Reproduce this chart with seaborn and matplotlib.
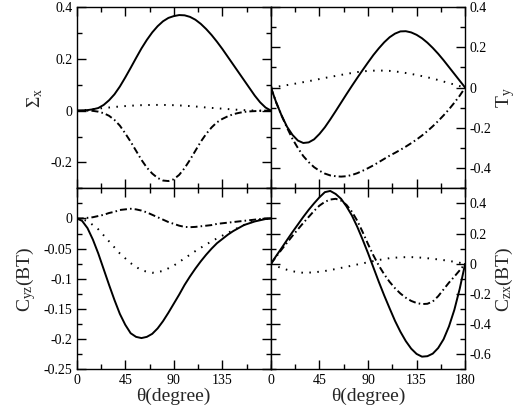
import numpy as np
import pandas as pd
import matplotlib
matplotlib.use("Agg")
import matplotlib.pyplot as plt
from matplotlib.ticker import MultipleLocator, FuncFormatter
import seaborn as sns

# angles (degrees)
theta_fine = [0, 5, 10, 15, 20, 25, 30, 35, 40, 45, 50, 55, 60, 65, 70, 75, 80, 85, 90,
              95, 100, 105, 110, 115, 120, 125, 130, 135, 140, 145, 150, 155, 160, 165, 170, 175, 180]
theta_coarse = [0, 10, 20, 30, 40, 50, 60, 70, 80, 90, 100, 110, 120, 130, 140, 150, 160, 170, 180]

# Sigma_x
sx_solid = [0, 0.0005, 0.002, 0.005, 0.01, 0.022, 0.04, 0.063, 0.093, 0.128, 0.165, 0.203, 0.24, 0.273, 0.302,
            0.326, 0.345, 0.358, 0.365, 0.369, 0.368, 0.362, 0.351, 0.335, 0.315, 0.292, 0.266, 0.238, 0.208,
            0.178, 0.148, 0.118, 0.088, 0.058, 0.032, 0.012, 0]
sx_dd = [0, 0, 0, -0.001, -0.004, -0.01, -0.02, -0.036, -0.058, -0.088, -0.12, -0.155, -0.19, -0.22, -0.243,
         -0.26, -0.27, -0.272, -0.265, -0.248, -0.222, -0.19, -0.155, -0.12, -0.09, -0.065, -0.045, -0.032,
         -0.022, -0.014, -0.009, -0.005, -0.003, -0.002, -0.001, 0, 0]
sx_dot = [0, 0.003, 0.008, 0.012, 0.016, 0.019, 0.021, 0.022, 0.022, 0.021, 0.019, 0.016, 0.012, 0.009, 0.006,
          0.003, 0.001, 0, 0]

# T_y
ty_solid = [0, -0.075, -0.14, -0.195, -0.235, -0.263, -0.275, -0.272, -0.257, -0.23, -0.197, -0.158, -0.117,
            -0.075, -0.033, 0.008, 0.048, 0.087, 0.125, 0.162, 0.195, 0.225, 0.25, 0.268, 0.279, 0.28, 0.274,
            0.262, 0.245, 0.223, 0.197, 0.168, 0.136, 0.102, 0.068, 0.034, 0]
ty_dd = [0, -0.075, -0.14, -0.2, -0.255, -0.3, -0.34, -0.37, -0.395, -0.413, -0.427, -0.436, -0.44, -0.442,
         -0.44, -0.434, -0.425, -0.413, -0.4, -0.386, -0.37, -0.354, -0.338, -0.324, -0.309, -0.293, -0.276,
         -0.258, -0.238, -0.216, -0.192, -0.166, -0.138, -0.108, -0.075, -0.04, 0]
ty_dot = [0, 0.008, 0.017, 0.027, 0.037, 0.048, 0.058, 0.068, 0.077, 0.083, 0.085, 0.083, 0.077, 0.068, 0.057,
          0.045, 0.03, 0.015, 0]

# C_yz(BT)
cyz_solid = [0, -0.004, -0.016, -0.035, -0.058, -0.084, -0.11, -0.135, -0.158, -0.176, -0.19, -0.196, -0.198,
             -0.196, -0.191, -0.182, -0.17, -0.156, -0.141, -0.126, -0.11, -0.096, -0.083, -0.071, -0.06, -0.05,
             -0.041, -0.034, -0.027, -0.021, -0.016, -0.011, -0.008, -0.005, -0.003, -0.001, 0]
cyz_dd = [0, 0, 0.001, 0.002, 0.004, 0.006, 0.009, 0.011, 0.014, 0.015, 0.016, 0.015, 0.013, 0.01, 0.006, 0.002,
          -0.002, -0.006, -0.009, -0.012, -0.014, -0.0145, -0.014, -0.013, -0.012, -0.011, -0.009, -0.008,
          -0.007, -0.006, -0.005, -0.004, -0.003, -0.002, -0.001, 0, 0]
cyz_dot = [0, -0.004, -0.018, -0.038, -0.058, -0.074, -0.086, -0.09, -0.087, -0.078, -0.066, -0.054, -0.043,
           -0.033, -0.024, -0.015, -0.007, -0.002, 0]

# C_zx(BT)
czx_solid = [0, 0.053, 0.105, 0.158, 0.21, 0.26, 0.31, 0.357, 0.40, 0.44, 0.474, 0.482, 0.462, 0.43, 0.38, 0.32,
             0.245, 0.16, 0.07, -0.025, -0.12, -0.21, -0.295, -0.378, -0.45, -0.512, -0.562, -0.597, -0.615,
             -0.612, -0.595, -0.558, -0.5, -0.415, -0.305, -0.165, 0]
czx_dd = [0, 0.048, 0.095, 0.14, 0.185, 0.228, 0.27, 0.31, 0.35, 0.385, 0.41, 0.425, 0.43, 0.418, 0.39, 0.345,
          0.285, 0.21, 0.13, 0.055, -0.012, -0.07, -0.12, -0.162, -0.197, -0.225, -0.246, -0.26, -0.267,
          -0.265, -0.25, -0.215, -0.17, -0.125, -0.085, -0.043, 0]
czx_dot = [0, -0.03, -0.05, -0.06, -0.057, -0.048, -0.035, -0.02, -0.005, 0.01, 0.025, 0.037, 0.043, 0.044,
           0.04, 0.033, 0.024, 0.013, 0]

sns.set_style("ticks")
plt.rcParams['font.family'] = ['Liberation Serif', 'DejaVu Serif']
plt.rcParams['mathtext.fontset'] = 'custom'
plt.rcParams['mathtext.rm'] = 'Liberation Serif'
plt.rcParams['mathtext.it'] = 'Liberation Serif'
plt.rcParams['mathtext.bf'] = 'Liberation Serif:bold'

fig = plt.figure(figsize=(5.2, 4.09), dpi=100)
L, W = 0.1475, 0.3735
B_top, B_bot, H = 0.5396, 0.0966, 0.4432
ax_tl = fig.add_axes([L, B_top, W, H])
ax_tr = fig.add_axes([L + W, B_top, W, H])
ax_bl = fig.add_axes([L, B_bot, W, H])
ax_br = fig.add_axes([L + W, B_bot, W, H])

LW = 1.4
styles = {
    'solid': '-',
    'dot': (0, (0.8, 3.3)),
    'dd': (0, (3.6, 1.6, 0.8, 1.6)),
}


def fmt(v, pos):
    if abs(v) < 1e-9:
        return '0'
    return ('%.3f' % v).rstrip('0').rstrip('.')


panels = [
    (ax_tl, sx_solid, sx_dot, sx_dd, (-0.3, 0.4), 0.2, 0.1, r'Σ$_{\mathrm{x}}$', 'left', True),
    (ax_tr, ty_solid, ty_dot, ty_dd, (-0.5, 0.4), 0.2, 0.1, r'T$_{\mathrm{y}}$', 'right', True),
    (ax_bl, cyz_solid, cyz_dot, cyz_dd, (-0.25, 0.05), 0.05, 0.025, r'C$_{\mathrm{yz}}$(BT)', 'left', False),
    (ax_br, czx_solid, czx_dot, czx_dd, (-0.7, 0.5), 0.2, 0.1, r'C$_{\mathrm{zx}}$(BT)', 'right', False),
]

for ax, ys, yd, ydd, ylim, maj, mnr, lab, side, top in panels:
    df_f = pd.DataFrame({'theta': theta_fine, 'solid': ys, 'dd': ydd})
    df_c = pd.DataFrame({'theta': theta_coarse, 'dot': yd})
    sns.lineplot(data=df_f, x='theta', y='solid', ax=ax, color='black', lw=LW,
                 linestyle=styles['solid'], legend=False)
    sns.lineplot(data=df_c, x='theta', y='dot', ax=ax, color='black', lw=LW,
                 linestyle=styles['dot'], legend=False)
    sns.lineplot(data=df_f, x='theta', y='dd', ax=ax, color='black', lw=LW,
                 linestyle=styles['dd'], legend=False)
    ax.set_xlim(0, 180)
    ax.set_ylim(*ylim)
    ax.xaxis.set_major_locator(MultipleLocator(45))
    ax.xaxis.set_minor_locator(MultipleLocator(22.5))
    ax.yaxis.set_major_locator(MultipleLocator(maj))
    ax.yaxis.set_minor_locator(MultipleLocator(mnr))
    ax.yaxis.set_major_formatter(FuncFormatter(fmt))
    ax.xaxis.set_major_formatter(FuncFormatter(fmt))
    ax.tick_params(which='both', direction='in', top=True, bottom=True, left=True, right=True,
                   labelsize=10, width=1.0, color='black', labelcolor='black')
    ax.tick_params(which='major', length=6.5, pad=3)
    ax.tick_params(which='minor', length=3.6)
    for sp in ax.spines.values():
        sp.set_linewidth(1.0)
        sp.set_color('black')
    if side == 'right':
        ax.yaxis.set_label_position('right')
        ax.tick_params(axis='y', which='both', labelleft=False, labelright=True)
        ax.set_ylabel(lab, fontsize=14, labelpad=2)
    else:
        ax.set_ylabel(lab, fontsize=14, labelpad=4)
    if top:
        ax.tick_params(axis='x', labelbottom=False)
        ax.set_xlabel('')
    else:
        ax.set_xlabel('θ(degree)', fontsize=14, labelpad=1)

# avoid overlapping labels at the shared edges
ax_bl.set_xticks([0, 45, 90, 135], labels=['0', '45', '90', '135'])
ax_bl.set_yticks([-0.25, -0.2, -0.15, -0.1, -0.05, 0])
ax_bl.set_ylim(-0.25, 0.05)

fig.savefig('out.png', dpi=100)
